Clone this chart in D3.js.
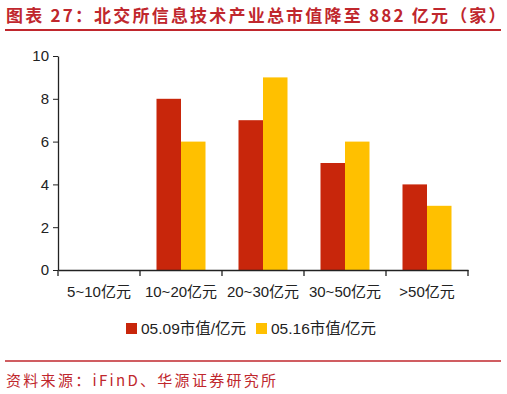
<!DOCTYPE html>
<html>
<head>
<meta charset="utf-8">
<script src="https://cdn.jsdelivr.net/npm/d3@7"></script>
<style>
body{margin:0;background:#fff;}
svg{display:block;}
</style>
</head>
<body>
<svg id="chart" width="507" height="394"></svg>
<script>
// data
const categories = ['5~10亿元', '10~20亿元', '20~30亿元', '30~50亿元', '>50亿元'];
const seriesNames = ['05.09市值/亿元', '05.16市值/亿元'];
const val0509 = [0, 8, 7, 5, 4];
const val0516 = [0, 6, 9, 6, 3];
const yTicks = [0, 2, 4, 6, 8, 10];

const titleText = '图表 27：北交所信息技术产业总市值降至 882 亿元（家）';
const sourceText = '资料来源：iFinD、华源证券研究所';

const red = '#c8260b';
const yellow = '#ffc000';
const themeRed = '#c0272d';
const font = '"Liberation Sans", Arial, "Noto Sans CJK SC", sans-serif';

let svg = d3.select('#chart');

// title
svg.append('text')
	.attr('x', 6).attr('y', 22)
	.attr('fill', themeRed)
	.attr('font-size', '17px')
	.attr('font-weight', 'bold')
	.attr('font-family', '"Noto Sans CJK SC", sans-serif')
	.attr('letter-spacing', '2.2px')
	.text(titleText);
svg.append('line')
	.attr('x1', 5).attr('x2', 501)
	.attr('y1', 30).attr('y2', 30)
	.attr('stroke', themeRed).attr('stroke-width', 2);

let plotL = 58, plotR = 468, plotT = 56, plotB = 270;

let x = d3.scaleBand().domain(categories).range([plotL, plotR]);
let y = d3.scaleLinear().domain([0, 10]).range([plotB, plotT]);
let barW = 24.5;

let g = svg.append('g');

// bars
categories.forEach((c, i) => {
	let cx = x(c) + x.bandwidth()/2;
	g.append('rect')
		.attr('x', cx - barW).attr('width', barW)
		.attr('y', y(val0509[i])).attr('height', plotB - y(val0509[i]))
		.attr('fill', red);
	g.append('rect')
		.attr('x', cx).attr('width', barW)
		.attr('y', y(val0516[i])).attr('height', plotB - y(val0516[i]))
		.attr('fill', yellow);
});

// y axis
let yAxis = g.append('g')
	.attr('transform', `translate(${plotL},0)`)
	.call(d3.axisLeft(y).tickValues(yTicks).tickSize(5).tickSizeOuter(0));
yAxis.select('.domain').attr('stroke', '#222').attr('stroke-width', 1.3);
yAxis.selectAll('line').attr('stroke', '#222');
yAxis.selectAll('text')
	.attr('font-size', '15px')
	.attr('font-family', font)
	.attr('fill', '#222')
	.attr('x', -9);

// x axis
let xAxis = g.append('g')
	.attr('transform', `translate(0,${plotB})`)
	.call(d3.axisBottom(x).tickSize(0).tickSizeOuter(0));
xAxis.select('.domain').attr('stroke', '#222').attr('stroke-width', 1.3);
xAxis.selectAll('text')
	.attr('font-size', '15px')
	.attr('font-family', font)
	.attr('fill', '#222')
	.attr('dy', '0')
	.attr('y', 27);
// boundary ticks between bands
let bounds = categories.map(c => x(c)).concat([plotR]);
xAxis.selectAll('.bound')
	.data(bounds)
	.enter().append('line')
	.attr('class', 'bound')
	.attr('x1', d => d).attr('x2', d => d)
	.attr('y1', 0).attr('y2', 6)
	.attr('stroke', '#222').attr('stroke-width', 1.3);

// legend
let legend = svg.append('g').attr('transform', 'translate(126,323)');
let lx = [0, 130];
seriesNames.forEach((n, i) => {
	legend.append('rect')
		.attr('x', lx[i]).attr('y', 0)
		.attr('width', 11).attr('height', 11)
		.attr('fill', i === 0 ? red : yellow);
	legend.append('text')
		.attr('x', lx[i] + 15).attr('y', 11)
		.attr('font-size', '15.5px')
		.attr('font-family', font)
		.attr('fill', '#222')
		.text(n);
});

// source
svg.append('line')
	.attr('x1', 5).attr('x2', 501)
	.attr('y1', 361).attr('y2', 361)
	.attr('stroke', themeRed).attr('stroke-width', 1.5);
svg.append('text')
	.attr('x', 6).attr('y', 386)
	.attr('fill', themeRed)
	.attr('font-size', '15px')
	.attr('font-family', '"Noto Sans CJK SC", sans-serif')
	.attr('letter-spacing', '2.3px')
	.text(sourceText);
</script>
</body>
</html>
